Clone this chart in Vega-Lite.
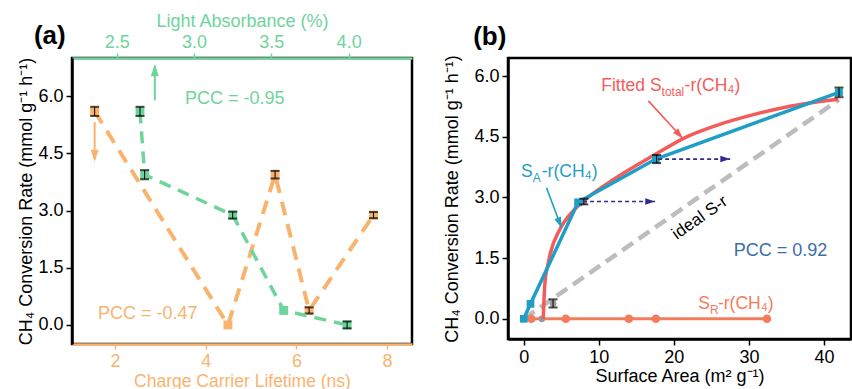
{
  "$schema": "https://vega.github.io/schema/vega-lite/v6.json",
  "padding": {"left": 16, "top": 10, "right": 0, "bottom": 0},
  "bounds": "flush",
  "spacing": 96,
  "config": {
    "font": "Liberation Sans",
    "view": {"stroke": "black", "strokeWidth": 2.5},
    "axis": {"grid": false, "domainWidth": 2.5, "tickWidth": 1.5, "tickSize": 6, "labelFontSize": 18, "titleFontSize": 18, "titleFontWeight": "normal", "labelPadding": 3, "domainColor": "black", "tickColor": "black", "labelColor": "black", "titleColor": "black", "labelFont": "Liberation Sans", "titleFont": "Liberation Sans"}
  },
  "datasets": {
    "orange": [{"lt": 1.55, "rate": 5.6, "err": 0.12}, {"lt": 4.49, "rate": 0}, {"lt": 5.53, "rate": 3.94, "err": 0.1}, {"lt": 6.28, "rate": 0.38, "err": 0.08}, {"lt": 7.7, "rate": 2.88, "err": 0.08}],
    "green": [{"ab": 2.65, "rate": 5.6, "err": 0.12}, {"ab": 2.68, "rate": 3.94, "err": 0.12}, {"ab": 3.25, "rate": 2.88, "err": 0.09}, {"ab": 3.58, "rate": 0.38}, {"ab": 3.99, "rate": 0.0, "err": 0.09}],
    "orangeArrow": [{"lt": 1.55, "rate": 5.32, "rate2": 4.35}],
    "orangeHead": [{"lt": 1.55, "rate": 4.28}],
    "greenArrow": [{"ab": 2.746, "rate": 5.89, "rate2": 6.8}],
    "greenHead": [{"ab": 2.746, "rate": 6.84}],
    "orangeText": [{"lt": 2.72, "rate": 0.29, "label": "PCC = -0.47"}],
    "greenText": [{"ab": 3.263, "rate": 5.93, "label": "PCC = -0.95"}],
    "panelA": [{"lt": 0.56, "rate": 7.57, "label": "(a)"}],
    "ideal": [{"sa": 0, "rate": 0}, {"sa": 42, "rate": 5.42}],
    "sr": [{"sa": 1.0, "rate": 0}, {"sa": 5.6, "rate": 0}, {"sa": 14, "rate": 0}, {"sa": 17.6, "rate": 0}, {"sa": 32.4, "rate": 0}],
    "fit": [{"sa": 2.6, "rate": 0}, {"sa": 2.7, "rate": 0.5}, {"sa": 2.85, "rate": 0.95}, {"sa": 3.2, "rate": 1.32}, {"sa": 3.5, "rate": 1.59}, {"sa": 4.8, "rate": 2.21}, {"sa": 6.6, "rate": 2.67}, {"sa": 8.4, "rate": 2.98}, {"sa": 12, "rate": 3.45}, {"sa": 17.2, "rate": 4.03}, {"sa": 21.7, "rate": 4.5}, {"sa": 26.1, "rate": 4.81}, {"sa": 30.6, "rate": 5.05}, {"sa": 35, "rate": 5.24}, {"sa": 41.9, "rate": 5.43}],
    "sA": [{"sa": 0, "rate": 0}, {"sa": 0.9, "rate": 0.37}, {"sa": 7.24, "rate": 2.88}, {"sa": 17.6, "rate": 3.95}, {"sa": 42, "rate": 5.6}],
    "total": [{"sa": 2.4, "rate": 0}, {"sa": 3.9, "rate": 0.38, "err": 0.1}, {"sa": 8.0, "rate": 2.9, "err": 0.07}, {"sa": 17.7, "rate": 3.95, "err": 0.1}, {"sa": 42, "rate": 5.6, "err": 0.12}],
    "navyArrows": [{"sa": 7.9, "sa2": 17.5, "rate": 2.9}, {"sa": 17.9, "sa2": 27.5, "rate": 3.95}],
    "navyHeads": [{"sa": 17.5, "rate": 2.9}, {"sa": 27.5, "rate": 3.95}],
    "redArrow": [{"sa": 16.6, "rate": 5.39, "sa2": 21.2, "rate2": 4.46}],
    "redHead": [{"sa": 21.2, "rate": 4.46}],
    "blueArrow": [{"sa": 3.03, "rate": 3.24, "sa2": 5.03, "rate2": 2.25}],
    "blueHead": [{"sa": 5.03, "rate": 2.25}],
    "panelB": [{"sa": -4.53, "rate": 6.97, "label": "(b)"}],
    "idealText": [{"sa": 23.47, "rate": 2.5, "label": "ideal S-r"}],
    "pccB": [{"sa": 34.2, "rate": 1.68, "label": "PCC = 0.92"}],
    "fitLabel": [{"sa": 18.36, "rate": 5.76, "p1": "Fitted S", "p2": "total", "p3": "-r(CH₄)"}],
    "saLabel": [{"sa": 1.2, "rate": 3.63, "p1": "S", "p2": "A", "p3": "-r(CH₄)"}],
    "srLabel": [{"sa": 24.8, "rate": 0.37, "p1": "S", "p2": "R", "p3": "-r(CH₄)"}]
  },
  "hconcat": [
    {
      "width": 340,
      "height": 286,
      "encoding": {
        "y": {"field": "rate", "type": "quantitative", "scale": {"domain": [-0.5, 7], "nice": false, "zero": false}, "axis": {"values": [0, 1.5, 3, 4.5, 6], "format": ".1f", "title": "CH₄ Conversion Rate (mmol g⁻¹ h⁻¹)", "titlePadding": 2}}
      },
      "resolve": {"scale": {"x": "independent"}, "axis": {"x": "independent"}},
      "layer": [
        {
          "encoding": {
            "x": {"field": "lt", "type": "quantitative", "scale": {"domain": [1.05, 8.55], "nice": false, "zero": false}, "axis": {"orient": "bottom", "values": [2, 4, 6, 8], "title": "Charge Carrier Lifetime (ns)", "domainColor": "#f8b46f", "tickColor": "#f8b46f", "labelColor": "#f8b46f", "titleColor": "#f8b46f", "tickSize": 5, "labelPadding": 3, "titlePadding": 2, "titleFontSize": 17.5}}
          },
          "layer": [
            {"data": {"name": "orange"}, "mark": {"type": "line", "color": "#f8b46f", "strokeWidth": 4, "strokeDash": [14, 9]}},
            {"data": {"name": "orange"}, "mark": {"type": "point", "shape": "square", "filled": true, "opacity": 1, "size": 80, "color": "#f8b46f"}},
            {"data": {"name": "orange"}, "transform": [{"filter": "isValid(datum.err)"}], "mark": {"type": "errorbar", "color": "black", "ticks": {"size": 9, "thickness": 2}}, "encoding": {"yError": {"field": "err"}}},
            {"data": {"name": "orangeArrow"}, "mark": {"type": "rule", "color": "#f8b46f", "strokeWidth": 2}, "encoding": {"y2": {"field": "rate2"}}},
            {"data": {"name": "orangeHead"}, "mark": {"type": "point", "shape": "M0,0L-1.8,-0.6L-1.8,0.6Z", "filled": true, "opacity": 1, "size": 180, "color": "#f8b46f", "angle": 90, "strokeWidth": 0}},
            {"data": {"name": "orangeText"}, "mark": {"type": "text", "fontSize": 18, "color": "#f8b46f"}, "encoding": {"text": {"field": "label"}}},
            {"data": {"name": "panelA"}, "mark": {"type": "text", "fontSize": 26, "fontWeight": "bold", "color": "black"}, "encoding": {"text": {"field": "label"}}}
          ]
        },
        {
          "encoding": {
            "x": {"field": "ab", "type": "quantitative", "scale": {"domain": [2.21, 4.41], "nice": false, "zero": false}, "axis": {"orient": "top", "values": [2.5, 3, 3.5, 4], "format": ".1f", "title": "Light Absorbance (%)", "domainColor": "#6fd49c", "tickColor": "#6fd49c", "labelColor": "#6fd49c", "titleColor": "#6fd49c", "tickSize": 5, "labelPadding": 2, "titlePadding": 3}}
          },
          "layer": [
            {"data": {"name": "green"}, "mark": {"type": "line", "color": "#6fd49c", "strokeWidth": 3.5, "strokeDash": [12, 8]}},
            {"data": {"name": "green"}, "mark": {"type": "point", "shape": "square", "filled": true, "opacity": 1, "size": 80, "color": "#6fd49c"}},
            {"data": {"name": "green"}, "transform": [{"filter": "isValid(datum.err)"}], "mark": {"type": "errorbar", "color": "black", "ticks": {"size": 9, "thickness": 2}}, "encoding": {"yError": {"field": "err"}}},
            {"data": {"name": "greenArrow"}, "mark": {"type": "rule", "color": "#6fd49c", "strokeWidth": 2}, "encoding": {"y2": {"field": "rate2"}}},
            {"data": {"name": "greenHead"}, "mark": {"type": "point", "shape": "M0,0L-1.8,-0.6L-1.8,0.6Z", "filled": true, "opacity": 1, "size": 180, "color": "#6fd49c", "angle": 270, "strokeWidth": 0}},
            {"data": {"name": "greenText"}, "mark": {"type": "text", "fontSize": 18, "color": "#6fd49c"}, "encoding": {"text": {"field": "label"}}}
          ]
        }
      ]
    },
    {
      "width": 343,
      "height": 281,
      "encoding": {
        "x": {"field": "sa", "type": "quantitative", "scale": {"domain": [-2.1, 43.6], "nice": false, "zero": false}, "axis": {"values": [0, 10, 20, 30, 40], "title": "Surface Area (m² g⁻¹)", "labelPadding": 3, "titlePadding": 1}},
        "y": {"field": "rate", "type": "quantitative", "scale": {"domain": [-0.5, 6.45], "nice": false, "zero": false}, "axis": {"values": [0, 1.5, 3, 4.5, 6], "format": ".1f", "title": "CH₄ Conversion Rate (mmol g⁻¹ h⁻¹)", "titlePadding": 12}}
      },
      "layer": [
        {"data": {"name": "ideal"}, "mark": {"type": "line", "color": "#bdbdbd", "strokeWidth": 4.5, "strokeDash": [13, 7]}},
        {"data": {"name": "sr"}, "mark": {"type": "line", "color": "#f47c5c", "strokeWidth": 3}},
        {"data": {"name": "sr"}, "mark": {"type": "point", "shape": "circle", "filled": true, "opacity": 1, "size": 75, "color": "#f47c5c"}},
        {"data": {"name": "total"}, "mark": {"type": "point", "shape": "circle", "filled": true, "opacity": 1, "size": 45, "color": "#9a9a9a"}},
        {"data": {"name": "fit"}, "mark": {"type": "line", "color": "#f45b5b", "strokeWidth": 3.5, "interpolate": "monotone"}},
        {"data": {"name": "sA"}, "mark": {"type": "line", "color": "#1f9ec6", "strokeWidth": 3.5}},
        {"data": {"name": "sA"}, "mark": {"type": "point", "shape": "square", "filled": true, "opacity": 1, "size": 60, "color": "#1f9ec6"}},
        {"data": {"name": "total"}, "transform": [{"filter": "isValid(datum.err)"}], "mark": {"type": "errorbar", "color": "black", "ticks": {"size": 9, "thickness": 2}}, "encoding": {"yError": {"field": "err"}}},
        {"data": {"name": "navyArrows"}, "mark": {"type": "rule", "color": "#302b8c", "strokeWidth": 1.6, "strokeDash": [4, 3]}, "encoding": {"x2": {"field": "sa2"}}},
        {"data": {"name": "navyHeads"}, "mark": {"type": "point", "shape": "M0,0L-1.8,-0.6L-1.8,0.6Z", "filled": true, "opacity": 1, "size": 120, "color": "#302b8c", "angle": 0, "strokeWidth": 0}},
        {"data": {"name": "redArrow"}, "mark": {"type": "rule", "color": "#f45b5b", "strokeWidth": 1.6}, "encoding": {"x2": {"field": "sa2"}, "y2": {"field": "rate2"}}},
        {"data": {"name": "redHead"}, "mark": {"type": "point", "shape": "M0,0L-1.8,-0.6L-1.8,0.6Z", "filled": true, "opacity": 1, "size": 140, "color": "#f45b5b", "angle": 47, "strokeWidth": 0}},
        {"data": {"name": "blueArrow"}, "mark": {"type": "rule", "color": "#1f9ec6", "strokeWidth": 1.6}, "encoding": {"x2": {"field": "sa2"}, "y2": {"field": "rate2"}}},
        {"data": {"name": "blueHead"}, "mark": {"type": "point", "shape": "M0,0L-1.8,-0.6L-1.8,0.6Z", "filled": true, "opacity": 1, "size": 140, "color": "#1f9ec6", "angle": 69, "strokeWidth": 0}},
        {"data": {"name": "panelB"}, "mark": {"type": "text", "fontSize": 26, "fontWeight": "bold", "color": "black"}, "encoding": {"text": {"field": "label"}}},
        {"data": {"name": "idealText"}, "mark": {"type": "text", "fontSize": 17, "color": "black", "angle": 325}, "encoding": {"text": {"field": "label"}}},
        {"data": {"name": "pccB"}, "mark": {"type": "text", "fontSize": 18, "color": "#3c6fa7"}, "encoding": {"text": {"field": "label"}}},
        {"data": {"name": "fitLabel"}, "mark": {"type": "text", "fontSize": 17.5, "color": "#f45b5b", "align": "right", "baseline": "middle"}, "encoding": {"text": {"field": "p1"}}},
        {"data": {"name": "fitLabel"}, "mark": {"type": "text", "fontSize": 12, "color": "#f45b5b", "align": "left", "baseline": "middle", "dy": 6}, "encoding": {"text": {"field": "p2"}}},
        {"data": {"name": "fitLabel"}, "mark": {"type": "text", "fontSize": 17.5, "color": "#f45b5b", "align": "left", "baseline": "middle", "dx": 23}, "encoding": {"text": {"field": "p3"}}},
        {"data": {"name": "saLabel"}, "mark": {"type": "text", "fontSize": 17.5, "color": "#1f9ec6", "align": "right", "baseline": "middle"}, "encoding": {"text": {"field": "p1"}}},
        {"data": {"name": "saLabel"}, "mark": {"type": "text", "fontSize": 12, "color": "#1f9ec6", "align": "left", "baseline": "middle", "dy": 6}, "encoding": {"text": {"field": "p2"}}},
        {"data": {"name": "saLabel"}, "mark": {"type": "text", "fontSize": 17.5, "color": "#1f9ec6", "align": "left", "baseline": "middle", "dx": 9}, "encoding": {"text": {"field": "p3"}}},
        {"data": {"name": "srLabel"}, "mark": {"type": "text", "fontSize": 17.5, "color": "#f47c5c", "align": "right", "baseline": "middle"}, "encoding": {"text": {"field": "p1"}}},
        {"data": {"name": "srLabel"}, "mark": {"type": "text", "fontSize": 12, "color": "#f47c5c", "align": "left", "baseline": "middle", "dy": 6}, "encoding": {"text": {"field": "p2"}}},
        {"data": {"name": "srLabel"}, "mark": {"type": "text", "fontSize": 17.5, "color": "#f47c5c", "align": "left", "baseline": "middle", "dx": 8}, "encoding": {"text": {"field": "p3"}}}
      ]
    }
  ]
}
